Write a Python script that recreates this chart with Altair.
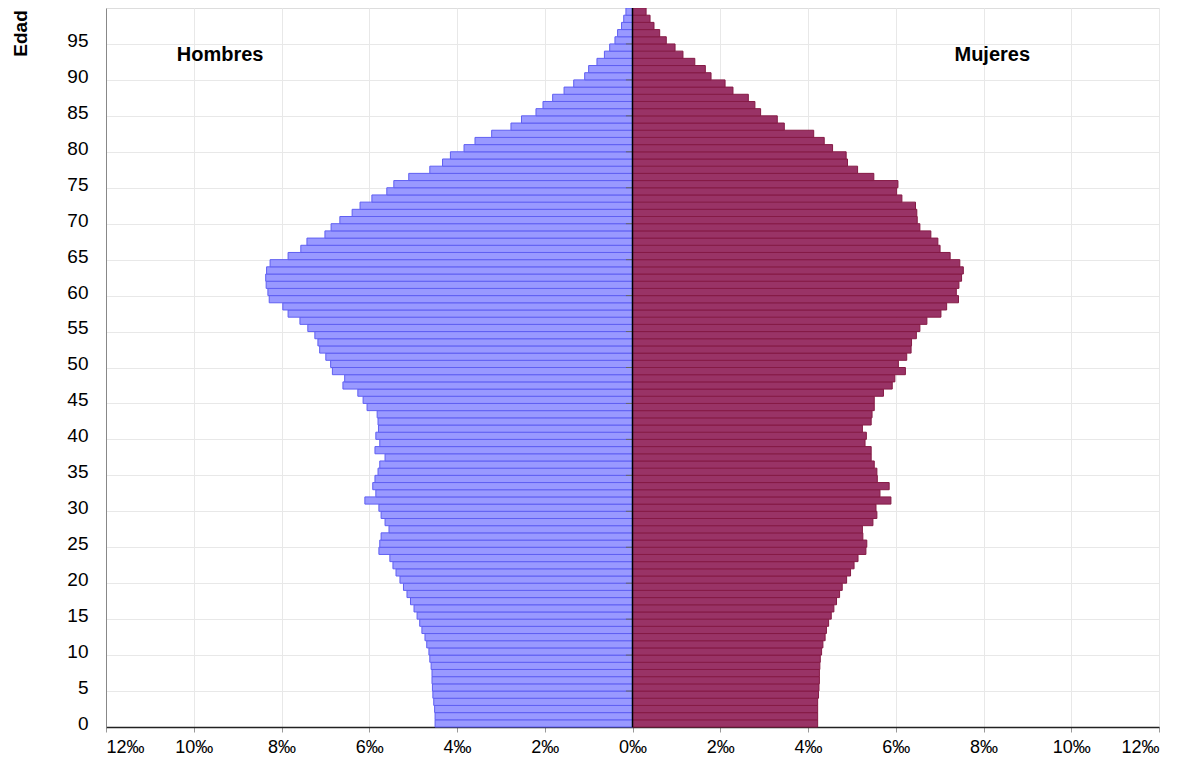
import altair as alt
import pandas as pd

ages = list(range(100))

hombres = [
    4.50, 4.50, 4.51, 4.53, 4.55, 4.56, 4.57, 4.57, 4.59, 4.62,
    4.64, 4.69, 4.73, 4.80, 4.85, 4.91, 4.98, 5.06, 5.14, 5.22,
    5.30, 5.39, 5.46, 5.53, 5.78, 5.76, 5.73, 5.55, 5.64, 5.73,
    5.78, 6.10, 5.85, 5.92, 5.87, 5.80, 5.76, 5.64, 5.87, 5.76,
    5.85, 5.79, 5.80, 5.82, 6.05, 6.14, 6.26, 6.60, 6.56, 6.84,
    6.88, 6.99, 7.13, 7.17, 7.24, 7.40, 7.58, 7.85, 7.97, 8.28,
    8.31, 8.35, 8.36, 8.34, 8.26, 7.85, 7.56, 7.42, 7.01, 6.87,
    6.67, 6.39, 6.21, 5.94, 5.60, 5.44, 5.10, 4.62, 4.33, 4.15,
    3.84, 3.59, 3.21, 2.77, 2.53, 2.20, 2.04, 1.82, 1.56, 1.34,
    1.09, 1.00, 0.81, 0.64, 0.52, 0.40, 0.34, 0.25, 0.20, 0.15,
]

mujeres = [
    4.22, 4.22, 4.22, 4.22, 4.24, 4.25, 4.26, 4.26, 4.27, 4.28,
    4.31, 4.34, 4.39, 4.42, 4.47, 4.53, 4.59, 4.65, 4.72, 4.78,
    4.88, 4.97, 5.05, 5.14, 5.32, 5.34, 5.25, 5.24, 5.48, 5.57,
    5.55, 5.89, 5.64, 5.85, 5.58, 5.57, 5.51, 5.44, 5.44, 5.30,
    5.33, 5.24, 5.44, 5.46, 5.51, 5.51, 5.72, 5.92, 5.98, 6.22,
    6.06, 6.25, 6.35, 6.36, 6.47, 6.55, 6.71, 7.03, 7.16, 7.43,
    7.38, 7.44, 7.50, 7.54, 7.46, 7.24, 7.01, 6.96, 6.80, 6.55,
    6.49, 6.48, 6.45, 6.14, 6.02, 6.05, 5.50, 5.13, 4.90, 4.87,
    4.56, 4.37, 4.13, 3.46, 3.30, 2.92, 2.79, 2.64, 2.29, 2.11,
    1.79, 1.66, 1.42, 1.15, 0.97, 0.77, 0.62, 0.49, 0.40, 0.31,
]

sexos = ["Hombres", "Mujeres"]
x_ticks = list(range(-12, 13, 2))
# category boundaries below ages 0, 5, ..., 95 (grid lines); labels show the age above
y_bounds = [k - 0.5 for k in range(0, 100, 5)]
grid_y = [k - 0.5 for k in range(5, 100, 5)]

label_pos = pd.DataFrame({"t": ["Hombres", "Mujeres"], "x": [-9.4, 8.2], "y": [93, 93]})

rows = []
for a, h, m in zip(ages, hombres, mujeres):
    rows.append({"edad": a, "sexo": "Hombres", "valor": -h})
    rows.append({"edad": a, "sexo": "Mujeres", "valor": m})
df = pd.DataFrame(rows)

FONT = "Liberation Sans"
xs = alt.Scale(domain=[-12, 12], nice=False, zero=False)
ys = alt.Scale(domain=[-0.5, 99.5], nice=False, zero=False)

AX = alt.Axis(
    values=x_ticks,
    labelExpr="abs(datum.value) + '‰'",
    title=None,
    grid=True,
    gridColor="#e8e8e8",
    domainColor="#222222",
    domainWidth=1.5,
    tickColor="#999999",
    tickSize=5,
    labelPadding=6,
    labelOverlap=False,
    labelFont=FONT,
    labelFontSize=18,
    labelColor="#000000",
)

AY = alt.Axis(
    values=y_bounds,
    labelExpr="format(datum.value + 0.5, 'd')",
    labelOffset=-3.6,
    grid=True,
    gridColor="#e8e8e8",
    ticks=False,
    domainColor="#888888",
    labelPadding=18,
    labelOverlap=False,
    labelFlush=False,
    labelFont=FONT,
    labelFontSize=19,
    labelColor="#000000",
    title="Edad",
    titleFont=FONT,
    titleFontSize=19,
    titleFontWeight="bold",
    titleColor="#000000",
    titleAngle=270,
    titleX=-86,
    titleY=25,
    titleAlign="center",
    titleBaseline="middle",
)

grid_df = pd.DataFrame({"g": grid_y})

bars = alt.Chart(df).transform_calculate(
    y0="datum.edad - 0.5", y1="datum.edad + 0.5", cero="0"
).mark_bar(strokeWidth=1).encode(
    x=alt.X("valor:Q", scale=xs, axis=AX),
    x2="cero:Q",
    y=alt.Y("y0:Q", scale=ys, axis=AY),
    y2="y1:Q",
    fill=alt.Fill("sexo:N", scale=alt.Scale(domain=sexos, range=["#9999ff", "#993366"]), legend=None),
    stroke=alt.Stroke("sexo:N", scale=alt.Scale(domain=sexos, range=["#5f5ff2", "#851a45"]), legend=None),
)

ticks0 = alt.Chart(grid_df).transform_calculate(
    xa="-0.15", xb="0"
).mark_rule(color="#666666", strokeWidth=1).encode(
    y=alt.Y("g:Q", scale=ys, axis=AY),
    x=alt.X("xa:Q", scale=xs, axis=AX),
    x2="xb:Q",
)

center = alt.Chart(pd.DataFrame({"c": [0]})).transform_calculate(
    ya="-0.5", yb="99.5"
).mark_rule(color="#000000", strokeWidth=1.5).encode(
    x=alt.X("c:Q", scale=xs, axis=AX),
    y=alt.Y("ya:Q", scale=ys, axis=AY),
    y2="yb:Q",
)

labels = alt.Chart(label_pos).mark_text(
    font=FONT, fontSize=20, fontWeight="bold", color="#000000", align="center", baseline="middle"
).encode(
    x=alt.X("x:Q", scale=xs, axis=AX),
    y=alt.Y("y:Q", scale=ys, axis=AY),
    text="t:N",
)

chart = alt.layer(bars, ticks0, center, labels).properties(
    width=1053,
    height=719,
    autosize=alt.AutoSizeParams(type="none"),
    padding={"left": 98, "top": 0, "right": 17, "bottom": 30},
).configure_view(
    stroke="#aaaaaa", strokeWidth=1
).configure(background="#ffffff")

chart.save("out.html", embed_options={"renderer": "svg", "actions": False})
